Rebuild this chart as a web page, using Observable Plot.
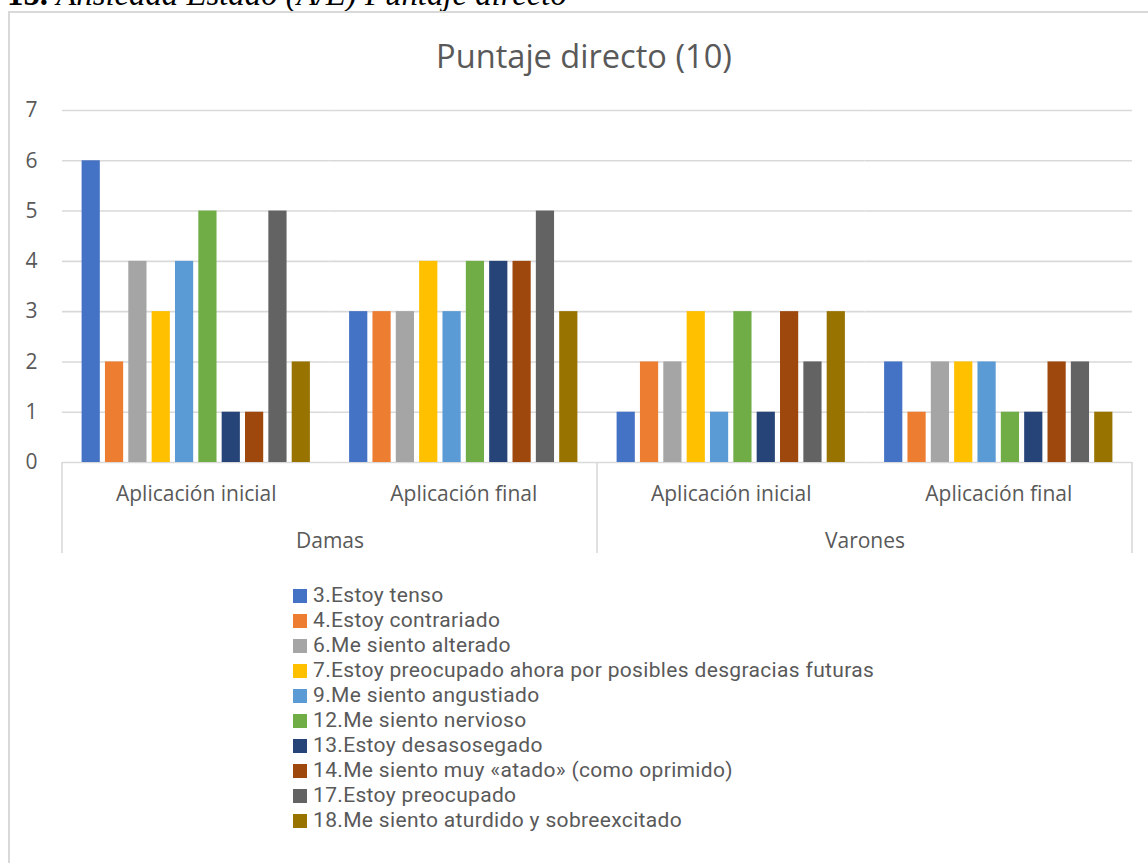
<!DOCTYPE html>
<html>
<head>
<meta charset="utf-8">
<script src="https://cdn.jsdelivr.net/npm/d3@7"></script>
<script src="https://cdn.jsdelivr.net/npm/@observablehq/plot@0.6"></script>
<style>
  html, body { margin: 0; padding: 0; background: #fff; }
  body { width: 1148px; height: 863px; overflow: hidden; position: relative; font-family: "Open Sans", sans-serif; color: #595959; }
  #caption { position: absolute; left: 7px; top: -22px; font-family: "Liberation Serif", serif; font-size: 32.8px; line-height: 1; white-space: nowrap; color: #000; }
  #caption b { font-weight: bold; }
  #caption i { font-style: italic; }
  #frame { position: absolute; left: 8px; top: 11px; width: 1200px; height: 900px; border: 2px solid #d9d9d9; box-sizing: border-box; }
  #title { position: absolute; left: 284px; width: 600px; top: 40px; text-align: center; font-size: 32.6px; line-height: 1; color: #595959; white-space: nowrap; }
  #chart { position: absolute; left: 0; top: 90px; }
  #legend { position: absolute; left: 293px; top: 583px; font-family: Roboto, sans-serif; font-size: 21px; letter-spacing: 0.34px; line-height: 25px; color: #595959; }
  .row { display: flex; align-items: center; height: 25px; white-space: nowrap; }
  .sw { width: 14px; height: 14px; margin-right: 6px; flex: none; position: relative; top: 0px; }
</style>
</head>
<body>
<div id="caption"><b>15.</b> <i>Ansiedad Estado (A/E) Puntaje directo</i></div>
<div id="frame"></div>
<div id="title">Puntaje directo (10)</div>
<div id="chart"></div>
<div id="legend"></div>
<script>
const series = [
  "3.Estoy tenso",
  "4.Estoy contrariado",
  "6.Me siento alterado",
  "7.Estoy preocupado ahora por posibles desgracias futuras",
  "9.Me siento angustiado",
  "12.Me siento nervioso",
  "13.Estoy desasosegado",
  "14.Me siento muy «atado» (como oprimido)",
  "17.Estoy preocupado",
  "18.Me siento aturdido y sobreexcitado"
];
const colors = ["#4472C4", "#ED7D31", "#A5A5A5", "#FFC000", "#5B9BD5", "#70AD47", "#264478", "#9E480E", "#636363", "#997300"];
const groups = ["Damas", "Varones"];
const applications = ["Aplicación inicial", "Aplicación final"];
const damasInicial = [6, 2, 4, 3, 4, 5, 1, 1, 5, 2];
const damasFinal = [3, 3, 3, 4, 3, 4, 4, 4, 5, 3];
const varonesInicial = [1, 2, 2, 3, 1, 3, 1, 3, 2, 3];
const varonesFinal = [2, 1, 2, 2, 2, 1, 1, 2, 2, 1];
const yTicks = [0, 1, 2, 3, 4, 5, 6, 7];

const valueSets = [
  ["Damas", "Aplicación inicial", damasInicial],
  ["Damas", "Aplicación final", damasFinal],
  ["Varones", "Aplicación inicial", varonesInicial],
  ["Varones", "Aplicación final", varonesFinal]
];
const rows = [];
for (const [group, app, vals] of valueSets) {
  vals.forEach((v, i) => rows.push({group, app, key: group + "|" + app, series: series[i], value: v}));
}
const keys = valueSets.map(([g, a]) => g + "|" + a);

const plot = Plot.plot({
  width: 1148,
  height: 475,
  marginLeft: 62,
  marginRight: 16,
  marginTop: 20,
  marginBottom: 103,
  style: {fontFamily: "Open Sans", fontSize: "21px", color: "#595959", background: "transparent", overflow: "visible"},
  facet: {data: rows, x: "key"},
  fx: {domain: keys, padding: 0, round: false, axis: "bottom", label: null, tickSize: 0, tickPadding: 24, tickFormat: k => k.split("|")[1]},
  x: {domain: series, paddingInner: 0.22, paddingOuter: 0.84, round: false, axis: null},
  y: {domain: [0, 7], ticks: yTicks, tickFormat: "d", label: null, tickSize: 0, tickPadding: 25},
  color: {domain: series, range: colors},
  marks: [
    Plot.ruleY(yTicks, {stroke: "#d9d9d9", strokeWidth: 1.6}),
    Plot.barY(rows, {x: "series", y: "value", fill: "series"}),
    Plot.text(rows, {
      filter: d => d.app === applications[0] && d.series === series[0],
      text: "group",
      frameAnchor: "bottom-right",
      textAnchor: "middle",
      dy: 85,
      fontSize: 21,
      fill: "#595959"
    })
  ]
});
document.getElementById("chart").appendChild(plot);

// category separators, placed with Plot's own fx and y scales
const fx = plot.scale("fx");
const ys = plot.scale("y");
const svg = d3.select(plot);
const y0 = ys.apply(0);
const seps = [fx.apply(keys[0]), fx.apply(keys[2]), fx.apply(keys[3]) + fx.bandwidth];
svg.append("g").selectAll("line").data(seps).join("line")
  .attr("x1", d => d).attr("x2", d => d)
  .attr("y1", y0).attr("y2", y0 + 91)
  .attr("stroke", "#d9d9d9").attr("stroke-width", 1.6);

// legend
const legend = d3.select("#legend");
series.forEach((s, i) => {
  const r = legend.append("div").attr("class", "row");
  r.append("div").attr("class", "sw").style("background", colors[i]);
  r.append("span").text(s);
});
</script>
</body>
</html>
